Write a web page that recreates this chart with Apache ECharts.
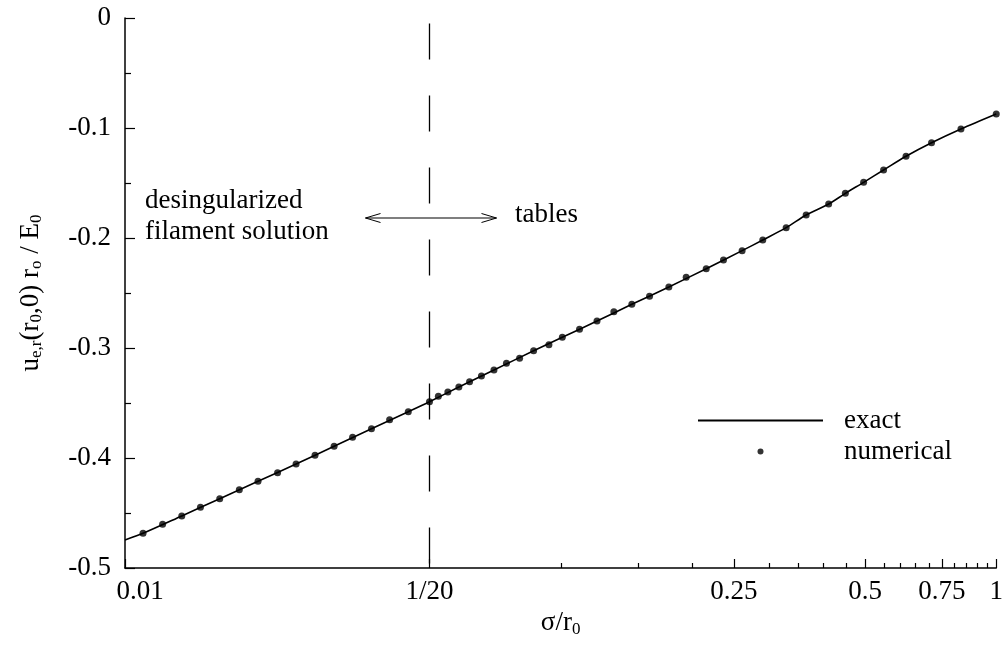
<!DOCTYPE html>
<html>
<head>
<meta charset="utf-8">
<script src="https://cdn.jsdelivr.net/npm/echarts@6/dist/echarts.min.js"></script>
<style>
  html, body { margin: 0; padding: 0; background: #ffffff; }
  #chart { width: 1006px; height: 645px; }
</style>
</head>
<body>
<div id="chart"></div>
<script>
// sigma / r0 of the numerical (tabulated) evaluations
const sigmaNumerical = [
  0.0110, 0.0122, 0.0135, 0.0149, 0.0165, 0.0183, 0.0202, 0.0224, 0.0247, 0.0273,
  0.0302, 0.0333, 0.0368, 0.0405, 0.0447, 0.0500, 0.0524, 0.0551, 0.0584, 0.0618,
  0.0658, 0.0703, 0.0751, 0.0805, 0.0867, 0.0940, 0.1009, 0.1105, 0.1212, 0.1325,
  0.1457, 0.1600, 0.1772, 0.1942, 0.2159, 0.2365, 0.2610, 0.2911, 0.3294, 0.3661,
  0.4124, 0.4504, 0.4961, 0.5513, 0.6207, 0.7104, 0.8298, 1.0000
];
// u_e,r(r0,0) r0 / E0 of the numerical evaluations
const uNumerical = [
  -0.4685, -0.4603, -0.4527, -0.4448, -0.4370, -0.4288, -0.4212, -0.4134, -0.4055, -0.3975,
  -0.3894, -0.3812, -0.3734, -0.3652, -0.3579, -0.3488, -0.3439, -0.3400, -0.3355, -0.3306,
  -0.3255, -0.3200, -0.3139, -0.3094, -0.3025, -0.2970, -0.2903, -0.2830, -0.2755, -0.2670,
  -0.2603, -0.2530, -0.2445, -0.2357, -0.2279, -0.2200, -0.2115, -0.2018, -0.1906, -0.1791,
  -0.1691, -0.1594, -0.1494, -0.1382, -0.1257, -0.1134, -0.1009, -0.0873
];
// exact solution curve
const sigmaExact = [
  0.0100, 0.0110, 0.0135, 0.0165, 0.0202, 0.0247, 0.0302, 0.0368, 0.0447, 0.0500,
  0.0584, 0.0703, 0.0867, 0.1009, 0.1212, 0.1457, 0.1772, 0.2159, 0.2610, 0.2911,
  0.3294, 0.3661, 0.4124, 0.4504, 0.4961, 0.5513, 0.6207, 0.7104, 0.8298, 1.0000
];
const uExact = [
  -0.4745, -0.4685, -0.4527, -0.4370, -0.4212, -0.4055, -0.3894, -0.3734, -0.3579, -0.3488,
  -0.3355, -0.3200, -0.3025, -0.2903, -0.2755, -0.2603, -0.2445, -0.2279, -0.2115, -0.2018,
  -0.1906, -0.1791, -0.1691, -0.1594, -0.1494, -0.1382, -0.1257, -0.1134, -0.1009, -0.0873
];
// labelled x ticks
const xMajorTicks = [0.01, 0.05, 0.25, 0.5, 0.75, 1];
const xMajorLabels = ['0.01', '1/20', '0.25', '0.5', '0.75', '1'];
// unlabelled x ticks
const xMinorTicks = [0.1, 0.15, 0.2, 0.3, 0.35, 0.4, 0.45, 0.55, 0.6, 0.65, 0.7, 0.8, 0.85, 0.9, 0.95];
// boundary between the two evaluation methods
const methodBoundary = 0.05;

const FONT = 'Liberation Serif';
const FS = 27;
const SUB = 17;
const chart = echarts.init(document.getElementById('chart'), null, { renderer: 'canvas' });

function zip(xs, ys) { return xs.map((x, i) => [x, ys[i]]); }

function xLabel(v) {
  for (let i = 0; i < xMajorTicks.length; i++) {
    if (Math.abs(v - xMajorTicks[i]) < 1e-6) {
      return i === 0 ? '{first|' + xMajorLabels[i] + '}' : xMajorLabels[i];
    }
  }
  return '';
}

const nameRich = {
  a: { fontFamily: FONT, fontSize: FS, color: '#000' },
  s: { fontFamily: FONT, fontSize: SUB, color: '#000', padding: [12, 0, 0, 0] }
};

// two identical plotting boxes: the second one only carries the short x ticks
const gridBox = { left: 125, right: 9, top: 18, bottom: 77 };
const xBase = {
  type: 'log', logBase: 10, min: 0.01, max: 1, position: 'bottom',
  splitLine: { show: false }, minorSplitLine: { show: false }, minorTick: { show: false }
};
const yBase = {
  type: 'value', min: -0.5, max: 0, interval: 0.1, position: 'left',
  splitLine: { show: false }
};
const textFont = FS + 'px "Liberation Serif"';

const option = {
  backgroundColor: '#ffffff',
  animation: false,
  grid: [Object.assign({}, gridBox), Object.assign({}, gridBox)],
  legend: {
    orient: 'vertical', left: 692, top: 402,
    itemWidth: 125, itemHeight: 6, itemGap: 4,
    selectedMode: false,
    textStyle: { fontFamily: FONT, fontSize: FS, color: '#000', lineHeight: 27, padding: [0, 0, 0, 16] },
    data: [
      { name: 'exact', itemStyle: { color: 'rgba(0,0,0,0)', borderWidth: 0, opacity: 0 } },
      { name: 'numerical' }
    ]
  },
  xAxis: [
    Object.assign({}, xBase, {
      gridIndex: 0,
      name: '{a|σ/r}{s|0}', nameLocation: 'middle', nameGap: 40,
      nameTextStyle: { rich: nameRich },
      axisLine: { show: true, onZero: false, lineStyle: { color: '#000', width: 1.5 } },
      axisTick: { show: true, inside: true, length: 9, customValues: xMajorTicks, lineStyle: { color: '#000', width: 1.2 } },
      axisLabel: {
        show: true, margin: 10, customValues: xMajorTicks, formatter: xLabel,
        fontFamily: FONT, fontSize: FS, color: '#000',
        rich: { first: { fontFamily: FONT, fontSize: FS, color: '#000', padding: [0, 0, 0, 30] } }
      }
    }),
    Object.assign({}, xBase, {
      gridIndex: 1,
      axisLine: { show: false, onZero: false },
      axisTick: { show: true, inside: true, length: 5, customValues: xMinorTicks, lineStyle: { color: '#000', width: 1.2 } },
      axisLabel: { show: false }
    })
  ],
  yAxis: [
    Object.assign({}, yBase, {
      gridIndex: 0,
      name: '{a|u}{s|e,r}{a|(r}{s|0}{a|,0) r}{s|o}{a| / E}{s|0}',
      nameLocation: 'middle', nameRotate: 90, nameGap: 80,
      nameTextStyle: { rich: nameRich },
      axisLine: { show: true, onZero: false, lineStyle: { color: '#000', width: 1.5 } },
      axisTick: { show: true, inside: true, length: 10, lineStyle: { color: '#000', width: 1.2 } },
      minorTick: { show: true, splitNumber: 2, length: 6, lineStyle: { color: '#000', width: 1.2 } },
      axisLabel: { margin: 14, fontFamily: FONT, fontSize: FS, color: '#000' }
    }),
    Object.assign({}, yBase, {
      gridIndex: 1,
      axisLine: { show: false, onZero: false }, axisTick: { show: false }, axisLabel: { show: false }
    })
  ],
  series: [
    {
      name: 'exact', type: 'line', xAxisIndex: 0, yAxisIndex: 0,
      data: zip(sigmaExact, uExact),
      showSymbol: false, symbol: 'none', smooth: 0.3,
      lineStyle: { color: '#000', width: 1.6 },
      itemStyle: { color: '#000' },
      markLine: {
        silent: true, symbol: 'none', label: { show: false },
        lineStyle: { color: '#000', width: 1.3, type: [36, 36] },
        data: [[{ coord: [methodBoundary, -0.005] }, { coord: [methodBoundary, -0.5] }]]
      },
      z: 3
    },
    {
      name: 'numerical', type: 'scatter', xAxisIndex: 0, yAxisIndex: 0,
      data: zip(sigmaNumerical, uNumerical),
      symbol: 'circle', symbolSize: 7,
      itemStyle: { color: '#000' },
      z: 4
    }
  ],
  graphic: [
    { type: 'text', left: 145, top: 187, style: { text: 'desingularized', font: textFont, fill: '#000' } },
    { type: 'text', left: 145, top: 218, style: { text: 'filament solution', font: textFont, fill: '#000' } },
    { type: 'text', left: 515, top: 201, style: { text: 'tables', font: textFont, fill: '#000' } },
    {
      type: 'group', left: 363, top: 211,
      children: [
        { type: 'line', shape: { x1: 0, y1: 5, x2: 131, y2: 5 }, style: { stroke: '#000', lineWidth: 1.2 } },
        { type: 'polyline', shape: { points: [[15, 0.5], [0, 5], [15, 9.5]] }, style: { stroke: '#000', lineWidth: 1, fill: null } },
        { type: 'polyline', shape: { points: [[116, 0.5], [131, 5], [116, 9.5]] }, style: { stroke: '#000', lineWidth: 1, fill: null } }
      ]
    }
  ]
};

chart.setOption(option);
</script>
</body>
</html>
